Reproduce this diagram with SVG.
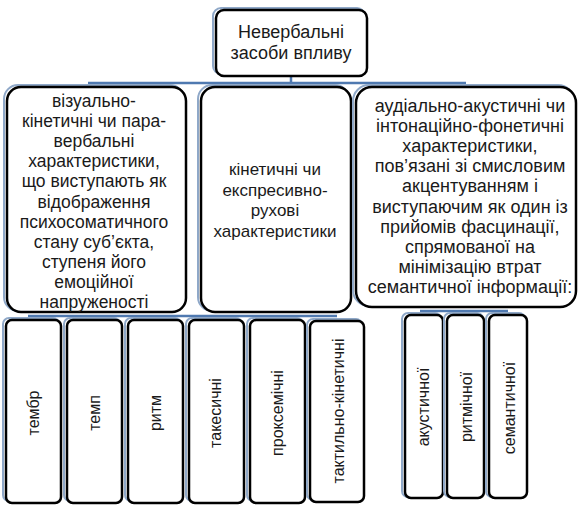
<svg xmlns="http://www.w3.org/2000/svg" width="579" height="514" viewBox="0 0 579 514">
<style>
.box{fill:#fff;stroke:#000;stroke-width:2.5}
.sh{fill:none;stroke:#8fa8c8;stroke-width:2}
.t{font-family:"Liberation Sans",Arial,sans-serif;fill:#1a1a1a;text-anchor:middle}
.bar{stroke:#4f79b0;stroke-width:2.5;fill:none}
</style>
<rect width="579" height="514" fill="#fff"/>
<g id="connectors">
<line class="bar" x1="291" y1="76" x2="291" y2="83"/>
<line class="bar" x1="88" y1="83" x2="466" y2="83"/>
<line class="bar" x1="28" y1="316" x2="337" y2="316"/>
<line class="bar" x1="420" y1="311" x2="508" y2="311"/>
</g>
<g id="root">
<rect class="sh" x="213" y="8" width="152" height="66" rx="8"/>
<rect class="box" x="216" y="10" width="151" height="66" rx="8"/>
<text class="t" font-size="18" x="291" y="38">Невербальні</text>
<text class="t" font-size="18" x="291" y="59">засоби впливу</text>
</g>
<g id="n1">
<rect class="sh" x="4" y="85" width="180" height="226" rx="14"/>
<rect class="box" x="7" y="87" width="179" height="225" rx="14"/>
<text class="t" font-size="17.5"><tspan x="94" y="107">візуально-</tspan><tspan x="94" y="127.1">кінетичні чи пара-</tspan><tspan x="94" y="147.2">вербальні</tspan><tspan x="94" y="167.3">характеристики,</tspan><tspan x="94" y="187.4">що виступають як</tspan><tspan x="94" y="207.5">відображення</tspan><tspan x="94" y="227.6">психосоматичного</tspan><tspan x="94" y="247.7">стану суб’єкта,</tspan><tspan x="94" y="267.8">ступеня його</tspan><tspan x="94" y="287.9">емоційної</tspan><tspan x="94" y="308">напруженості</tspan></text>
</g>
<g id="n2">
<rect class="sh" x="198" y="85" width="151" height="226" rx="14"/>
<rect class="box" x="201" y="87" width="150" height="225" rx="14"/>
<text class="t" font-size="17"><tspan x="275" y="175">кінетичні чи</tspan><tspan x="275" y="195.5">експресивно-</tspan><tspan x="275" y="216">рухові</tspan><tspan x="275" y="236.5">характеристики</tspan></text>
</g>
<g id="n3">
<rect class="sh" x="353" y="85" width="221" height="221" rx="16"/>
<rect class="box" x="356" y="87" width="220" height="220" rx="16"/>
<text class="t" font-size="18"><tspan x="470" y="112">аудіально-акустичні чи</tspan><tspan x="470" y="132.1">інтонаційно-фонетичні</tspan><tspan x="470" y="152.2">характеристики,</tspan><tspan x="470" y="172.3">пов’язані зі смисловим</tspan><tspan x="470" y="192.4">акцентуванням і</tspan><tspan x="470" y="212.5">виступаючим як один із</tspan><tspan x="470" y="232.6">прийомів фасцинації,</tspan><tspan x="470" y="252.7">спрямованої на</tspan><tspan x="470" y="272.8">мінімізацію втрат</tspan><tspan x="470" y="293">семантичної інформації:</tspan></text>
</g>
<g id="c1">
<rect class="sh" x="3" y="318" width="56" height="183" rx="6"/>
<rect class="box" x="6" y="320" width="55" height="183" rx="6"/>
<text class="t" font-size="16" transform="translate(39,413) rotate(-90)">тембр</text>
</g>
<g id="c2">
<rect class="sh" x="64" y="318" width="56" height="183" rx="6"/>
<rect class="box" x="67" y="320" width="55" height="183" rx="6"/>
<text class="t" font-size="16" transform="translate(100,413) rotate(-90)">темп</text>
</g>
<g id="c3">
<rect class="sh" x="125" y="318" width="56" height="183" rx="6"/>
<rect class="box" x="128" y="320" width="55" height="183" rx="6"/>
<text class="t" font-size="16" transform="translate(161,413) rotate(-90)">ритм</text>
</g>
<g id="c4">
<rect class="sh" x="186" y="318" width="56" height="183" rx="6"/>
<rect class="box" x="189" y="320" width="55" height="183" rx="6"/>
<text class="t" font-size="16" transform="translate(221,413) rotate(-90)">такесичні</text>
</g>
<g id="c5">
<rect class="sh" x="247" y="318" width="56" height="183" rx="6"/>
<rect class="box" x="250" y="320" width="55" height="183" rx="6"/>
<text class="t" font-size="16" transform="translate(283,413) rotate(-90)">проксемічні</text>
</g>
<g id="c6">
<rect class="sh" x="307" y="319" width="55" height="181" rx="6"/>
<rect class="box" x="310" y="321" width="54" height="181" rx="6"/>
<text class="t" font-size="16" transform="translate(344,411) rotate(-90)">тактильно-кінетичні</text>
</g>
<g id="c7">
<rect class="sh" x="402" y="313" width="39" height="184" rx="6"/>
<rect class="box" x="405" y="315" width="38" height="183" rx="6"/>
<text class="t" font-size="16" transform="translate(429,407) rotate(-90)">акустичної</text>
</g>
<g id="c8">
<rect class="sh" x="444" y="313" width="39" height="184" rx="6"/>
<rect class="box" x="447" y="315" width="37" height="183" rx="6"/>
<text class="t" font-size="16" transform="translate(472,407) rotate(-90)">ритмічної</text>
</g>
<g id="c9">
<rect class="sh" x="486" y="313" width="39" height="184" rx="6"/>
<rect class="box" x="489" y="315" width="38" height="183" rx="6"/>
<text class="t" font-size="16" transform="translate(515,408) rotate(-90)">семантичної</text>
</g>
</svg>
